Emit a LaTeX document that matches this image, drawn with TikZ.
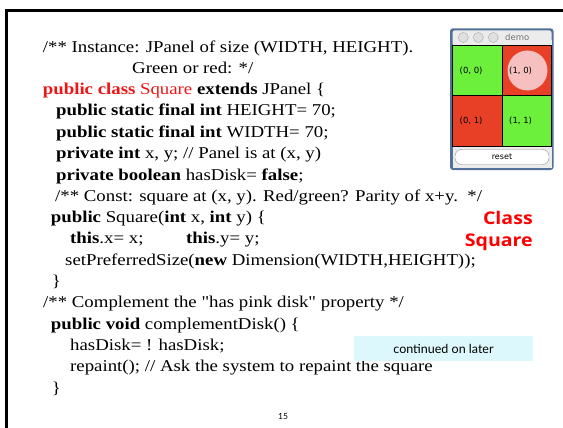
\documentclass[tikz,border=0pt]{standalone}
\usepackage{fontspec}
\setmainfont{Liberation Serif}[Ligatures=TeXOff, FakeStretch=1.14]
\newfontfamily\gill{Lato}
\newfontfamily\gillbold{Open Sans}[FakeStretch=1.12]
\newfontfamily\lucida{DejaVu Sans}
\definecolor{jred}{RGB}{240,20,20}
\definecolor{classred}{RGB}{255,0,0}
\definecolor{cellgreen}{RGB}{108,240,60}
\definecolor{cellred}{RGB}{232,64,38}
\definecolor{diskpink}{RGB}{246,192,192}
\definecolor{winblue}{RGB}{82,112,152}
\definecolor{titlegrey}{RGB}{236,236,236}
\definecolor{contbg}{RGB}{221,248,252}
\tikzset{
  code/.style={anchor=base west, inner sep=0pt, font=\fontsize{16.5}{19}\selectfont},
  cell/.style={draw=black, line width=0.8pt},
  celllabel/.style={anchor=west, inner sep=0pt, font=\lucida\fontsize{8.5}{10}\selectfont},
  classlbl/.style={anchor=base east, inner sep=0pt, text=classred, font=\gillbold\bfseries\fontsize{17.5}{20}\selectfont},
  winbtn/.style={circle, draw=black!35, fill=white!88!black, minimum size=10pt, inner sep=0pt},
}
\begin{document}
\begin{tikzpicture}[x=1pt,y=-1pt]
\useasboundingbox (0,0) rectangle (563,428);
% frame
\draw[line width=3pt] (563,10.5) -- (6,10.5) -- (6,428);

% code lines
\node[code] (l1) at (42.7,52.5) {/** Instance: JPanel of size (WIDTH, HEIGHT).};
\node[code] (l2) at (132,73.5) {Green or red: */};
\node[code] (l3) at (42.7,95) {\textcolor{jred}{\textbf{public class} Square} \textbf{extends} JPanel \{};
\node[code] (l4) at (56,116) {\textbf{public static final int} HEIGHT= 70;};
\node[code] (l5) at (56,137) {\textbf{public static final int} WIDTH= 70;};
\node[code] (l6) at (56,158.5) {\textbf{private int} x, y; // Panel is at (x, y)};
\node[code] (l7) at (56,180) {\textbf{private boolean} hasDisk= \textbf{false};};
\node[code] (l8) at (55,201) {/** Const: square at (x, y). Red/green? Parity of x+y.\ \ */};
\node[code] (l9) at (50.7,222) {\textbf{public} Square(\textbf{int} x, \textbf{int} y) \{};
\node[code] (l10a) at (70,243.5) {\textbf{this}.x= x;};
\node[code] (l10b) at (186,243.5) {\textbf{this}.y= y;};
\node[code] (l11) at (65,265) {setPreferredSize(\textbf{new} Dimension(WIDTH,HEIGHT));};
\node[code] (l12) at (51.7,286) {\}};
\node[code] (l13) at (43,307.5) {/** Complement the "has pink disk" property */};
\node[code] (l14) at (50.7,329) {\textbf{public void} complementDisk() \{};
\node[code] (l15) at (70,350) {hasDisk= ! hasDisk;};
\node[code] (l16) at (70,371.5) {repaint(); // Ask the system to repaint the square};
\node[code] (l17) at (51.7,393) {\}};

% Class Square label
\node[classlbl] (cls1) at (533,224) {Class};
\node[classlbl] (cls2) at (533,246) {Square};

% continued box
\node[fill=contbg, minimum width=179pt, minimum height=25pt, inner sep=0pt,
      font=\gill\fontsize{12.5}{14}\selectfont] (cont) at (443.5,348.5) {continued on later};

% page number
\node[font=\gill\fontsize{8.5}{10}\selectfont, inner sep=0pt] (pg) at (283,416) {15};

% demo window
\fill[winblue, rounded corners=3pt] (450,28.3) rectangle (553.5,170);
\fill[titlegrey, rounded corners=2.5pt] (452.5,30.3) rectangle (551.5,45.7);
\fill[titlegrey] (452.5,40) rectangle (551.5,45.7);
\node[winbtn] (b1) at (463.3,37.5) {};
\node[winbtn] (b2) at (478.3,37.5) {};
\node[winbtn] (b3) at (493.3,37.5) {};
\node[anchor=west, inner sep=0pt, text=black!55, font=\lucida\fontsize{8.5}{10}\selectfont] (title) at (505,37.5) {demo};
% cells
\draw[cell, fill=cellgreen] (452.5,45.7) rectangle (502.3,95.7);
\draw[cell, fill=cellred] (502.3,45.7) rectangle (551.7,95.7);
\fill[diskpink] (527.5,70.5) circle (20);
\draw[cell, fill=cellred] (452.5,95.7) rectangle (502.3,146);
\draw[cell, fill=cellgreen] (502.3,95.7) rectangle (551.7,146);
\node[celllabel] (c00) at (459.5,71) {(0, 0)};
\node[celllabel] (c10) at (509,71) {(1, 0)};
\node[celllabel] (c01) at (459.5,121) {(0, 1)};
\node[celllabel] (c11) at (509,121) {(1, 1)};
% bottom bar with reset button
\fill[titlegrey] (452.5,146.5) rectangle (551.7,168);
\node[draw=black!45, fill=white, rounded corners=6.5pt, minimum width=94pt, minimum height=15pt, inner sep=0pt,
      font=\lucida\fontsize{8}{9}\selectfont] (reset) at (502,157) {reset};
\end{tikzpicture}
\end{document}
